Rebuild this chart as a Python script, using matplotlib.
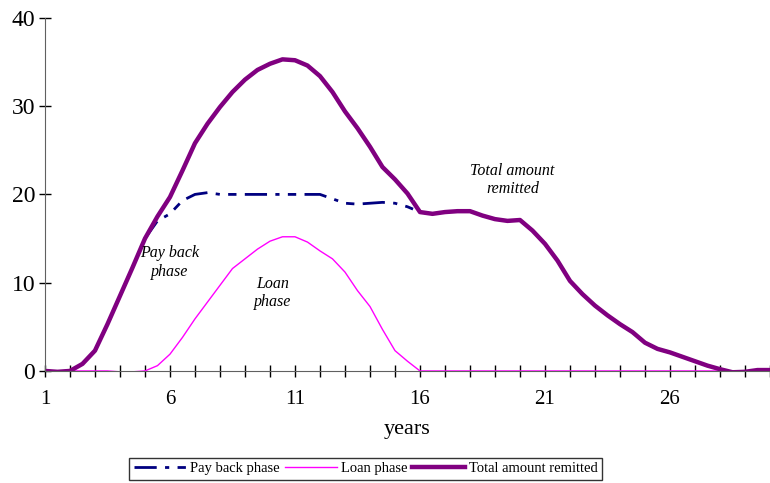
import matplotlib.pyplot as plt

# years, half-year steps
years = [1 + 0.5 * i for i in range(59)]

total = [0, -0.1, 0, 0.8, 2.3, 5.3, 8.5, 11.7, 15.0, 17.5,
         19.7, 22.7, 25.8, 28.0, 29.9, 31.6, 33.0, 34.1, 34.8, 35.3,
         35.2, 34.6, 33.4, 31.6, 29.4, 27.5, 25.4, 23.1, 21.7, 20.1,
         18.0, 17.8, 18.0, 18.1, 18.1, 17.6, 17.2, 17.0, 17.1, 15.9,
         14.4, 12.5, 10.2, 8.7, 7.4, 6.3, 5.3, 4.4, 3.2, 2.5,
         2.1, 1.6, 1.1, 0.6, 0.2, -0.15, -0.1, 0.1, 0.1]

payback = total[:9] + [17.0, 17.8, 19.3, 20.0, 20.2, 20.0, 20.0, 20.0, 20.0, 20.0, 20.0,
                       20.0, 20.0, 20.0, 19.5, 19.0, 18.9, 19.0, 19.1, 19.0, 18.6] + total[30:]

loan = [0, 0, 0, 0, 0, 0, -0.1, -0.1, 0, 0.6,
        1.9, 3.8, 5.9, 7.8, 9.7, 11.6, 12.7, 13.8, 14.7, 15.2,
        15.2, 14.6, 13.6, 12.7, 11.2, 9.1, 7.3, 4.7, 2.3, 1.1] + [0] * 29

plt.rcParams['font.family'] = ['Liberation Serif', 'DejaVu Serif']

fig = plt.figure(figsize=(7.7, 4.83), dpi=100)
ax = fig.add_axes([0.0584, 0.232, 0.9416, 0.731])

ax.plot(years, payback, color="#000080", lw=2, dashes=(8, 3, 1.5, 3, 3, 3),
        label="Pay back phase")
ax.plot(years, loan, color="#FF00FF", lw=1, label="Loan phase")
ax.plot(years, total, color="#800080", lw=3.2, label="Total amount remitted")

ax.set_xlim(1, 30)
ax.set_ylim(0, 40)
ax.set_xticks(range(1, 31))
ax.set_xticklabels([str(i) if (i - 1) % 5 == 0 else "" for i in range(1, 31)])
ax.set_yticks([0, 10, 20, 30, 40])
ax.tick_params(direction="inout", length=8, width=1)
ax.tick_params(axis="y", labelsize=17, pad=3)
ax.tick_params(axis="x", labelsize=15, pad=10)
ax.spines["top"].set_visible(False)
ax.spines["right"].set_visible(False)
ax.spines["left"].set_color("#606060")
ax.spines["bottom"].set_color("#606060")
ax.set_xlabel("years", fontsize=16, labelpad=8)

# in-chart labels
ax.text(6.0, 12.3, "Pay back\nphase", style="italic", fontsize=11.5, ha="center", va="center")
ax.text(10.1, 8.8, "Loan\nphase", style="italic", fontsize=11.5, ha="center", va="center")
ax.text(19.7, 21.6, "Total amount\nremitted", style="italic", fontsize=11.5,
        ha="center", va="center")

leg = fig.legend(loc="lower center", bbox_to_anchor=(0.475, -0.008), ncol=3, fontsize=10.5,
                 fancybox=False, edgecolor="black", handlelength=3.6,
                 borderpad=0.3, columnspacing=0.3, handletextpad=0.3)
leg.get_frame().set_linewidth(1)

fig.savefig("out.png", dpi=100)
